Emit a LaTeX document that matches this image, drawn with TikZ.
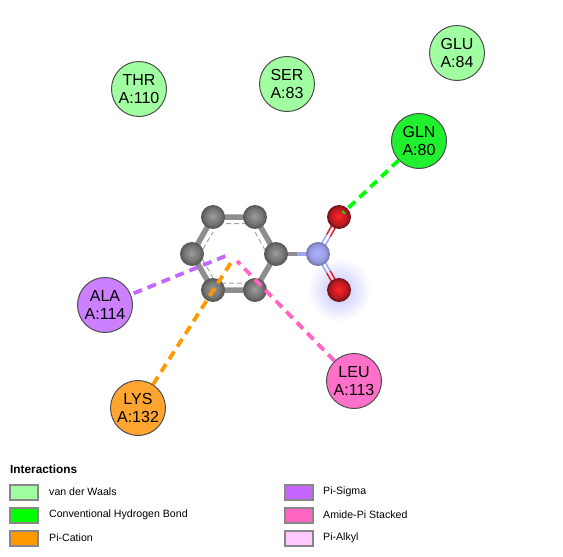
\documentclass[tikz,border=0pt]{standalone}
\usepackage{fontspec}
\setmainfont{Liberation Sans}
\usetikzlibrary{backgrounds}
\definecolor{vdw}{HTML}{A0FFA0}
\definecolor{hbond}{HTML}{00FF00}
\definecolor{hres}{HTML}{20F030}
\definecolor{pication}{HTML}{FF9900}
\definecolor{lysfill}{HTML}{FFA530}
\definecolor{pisigma}{HTML}{C466FF}
\definecolor{alafill}{HTML}{CC80FF}
\definecolor{amidepi}{HTML}{FF66C4}
\definecolor{leufill}{HTML}{FF70C8}
\definecolor{pialkyl}{HTML}{FFC8FF}
\definecolor{bondgray}{HTML}{8E8E8E}
\definecolor{nblue}{HTML}{A0A6F0}
\definecolor{ored}{HTML}{D8202A}
\pgfdeclareradialshading{graysphere}{\pgfpoint{-1bp}{2bp}}{color(0bp)=(black!38); color(8bp)=(black!47); color(16bp)=(black!54); color(24bp)=(black!66); color(50bp)=(black!72)}
\pgfdeclareradialshading{bluesphere}{\pgfpoint{-1bp}{2bp}}{color(0bp)=(nblue!90!white); color(10bp)=(nblue); color(18bp)=(nblue!92!black); color(24bp)=(nblue!72!black); color(50bp)=(nblue!60!black)}
\pgfdeclareradialshading{redsphere}{\pgfpoint{-1bp}{2bp}}{color(0bp)=(red!85!white); color(9bp)=(ored!85!red); color(17bp)=(ored!85!black); color(24bp)=(ored!55!black); color(50bp)=(ored!45!black)}
\tikzset{
  x=1pt,y=-1pt,
  residue/.style={circle,draw=black!70,line width=1pt,minimum size=55pt,inner sep=0pt,align=center,font=\fontsize{16}{18}\selectfont},
  carbon/.style={circle,shading=graysphere,minimum size=24pt,inner sep=0pt},
  nitrogen/.style={circle,shading=bluesphere,minimum size=24pt,inner sep=0pt},
  oxygen/.style={circle,shading=redsphere,minimum size=24pt,inner sep=0pt},
  glow/.style={circle,minimum size=64pt,inner sep=0pt,inner color=blue!24!white,outer color=white},
  bond/.style={draw=bondgray,line width=5.5pt},
  inner ring/.style={draw=bondgray!80,line width=1pt,dash pattern=on 5pt off 3pt},
  contact/.style={line width=3.8pt,dash pattern=on 9pt off 6pt},
  dbl/.style={line width=1.5pt},
  legbox/.style={draw=black!47,line width=2pt,minimum width=28pt,minimum height=15.5pt,inner sep=0pt},
  legtext/.style={anchor=west,inner sep=0pt,font=\fontsize{10.6}{13}\selectfont},
}
\begin{document}
\begin{tikzpicture}
\useasboundingbox (0,0) rectangle (563,557);
% residues
\node[residue,fill=vdw] (thr) at (139,89) {THR\\A:110};
\node[residue,fill=vdw] (ser) at (287,84) {SER\\A:83};
\node[residue,fill=vdw] (glu) at (457,53) {GLU\\A:84};
\node[residue,fill=hres] (gln) at (419,141) {GLN\\A:80};
\node[residue,fill=alafill] (ala) at (105,305) {ALA\\A:114};
\node[residue,fill=lysfill] (lys) at (138,408) {LYS\\A:132};
\node[residue,fill=leufill] (leu) at (354,381) {LEU\\A:113};
% atoms
\node[carbon] (c1) at (213,217) {};
\node[carbon] (c2) at (255,217) {};
\node[carbon] (c3) at (276,254) {};
\node[carbon] (c4) at (255,290) {};
\node[carbon] (c5) at (213,290) {};
\node[carbon] (c6) at (192,254) {};
\node[nitrogen] (n) at (318,254) {};
\node[oxygen] (o1) at (339,217) {};
\node[oxygen] (o2) at (339,290) {};
\coordinate (ringa) at (228,255);
\coordinate (ringb) at (232,261);
\coordinate (ringc) at (237,261);
\coordinate (ihb) at (343,213);
\begin{scope}[on background layer]
  \node[glow] (halo) at (o2) {};
  \draw[bond] (c1.center) -- (c2.center) -- (c3.center) -- (c4.center) -- (c5.center) -- (c6.center) -- cycle;
  \draw[inner ring] (218,223.5) -- (250,223.5) (255,232) -- (265,250) (250,283) -- (218,283) (203,249) -- (213,232) (203,260) -- (213,278);
  \draw[bond,line width=4pt] (c3.center) -- (297,254);
  \draw[draw=nblue,line width=4pt] (297,254) -- (n.center);
  \draw[dbl,nblue] ([xshift=1.8pt,yshift=-1pt]n.center) -- ([xshift=1.8pt,yshift=-1pt]328.5,235.5);
  \draw[dbl,nblue] ([xshift=-1.8pt,yshift=1pt]n.center) -- ([xshift=-1.8pt,yshift=1pt]328.5,235.5);
  \draw[dbl,ored] ([xshift=1.8pt,yshift=-1pt]328.5,235.5) -- ([xshift=1.8pt,yshift=-1pt]o1.center);
  \draw[dbl,ored] ([xshift=-1.8pt,yshift=1pt]328.5,235.5) -- ([xshift=-1.8pt,yshift=1pt]o1.center);
  \draw[dbl,nblue] ([xshift=1.8pt,yshift=1pt]n.center) -- ([xshift=1.8pt,yshift=1pt]328.5,272);
  \draw[dbl,nblue] ([xshift=-1.8pt,yshift=-1pt]n.center) -- ([xshift=-1.8pt,yshift=-1pt]328.5,272);
  \draw[dbl,ored] ([xshift=1.8pt,yshift=1pt]328.5,272) -- ([xshift=1.8pt,yshift=1pt]o2.center);
  \draw[dbl,ored] ([xshift=-1.8pt,yshift=-1pt]328.5,272) -- ([xshift=-1.8pt,yshift=-1pt]o2.center);
\end{scope}
% contacts
\draw[contact,draw=hbond] (gln) -- (ihb);
\draw[contact,draw=pisigma,shorten <=3pt] (ala) -- (ringa);
\draw[contact,draw=pication] (lys) -- (ringb);
\draw[contact,draw=amidepi] (leu) -- (ringc);
% legend
\node[anchor=west,inner sep=0pt,font=\fontsize{11.8}{13}\selectfont\bfseries] (legtitle) at (10,469) {Interactions};
\node[legbox,fill=vdw] (k1) at (24,492.5) {};
\node[legbox,fill=hbond] (k2) at (24,515.5) {};
\node[legbox,fill=pication] (k3) at (24,538.5) {};
\node[legbox,fill=pisigma] (k4) at (299,492.5) {};
\node[legbox,fill=amidepi] (k5) at (299,515.5) {};
\node[legbox,fill=pialkyl] (k6) at (299,538.5) {};
\node[legtext] (t1) at (49,492) {van der Waals};
\node[legtext] (t2) at (49,515) {Conventional Hydrogen Bond};
\node[legtext] (t3) at (49,538) {Pi-Cation};
\node[legtext] (t4) at (323,492) {Pi-Sigma};
\node[legtext] (t5) at (323,515) {Amide-Pi Stacked};
\node[legtext] (t6) at (323,538) {Pi-Alkyl};
\end{tikzpicture}
\end{document}
